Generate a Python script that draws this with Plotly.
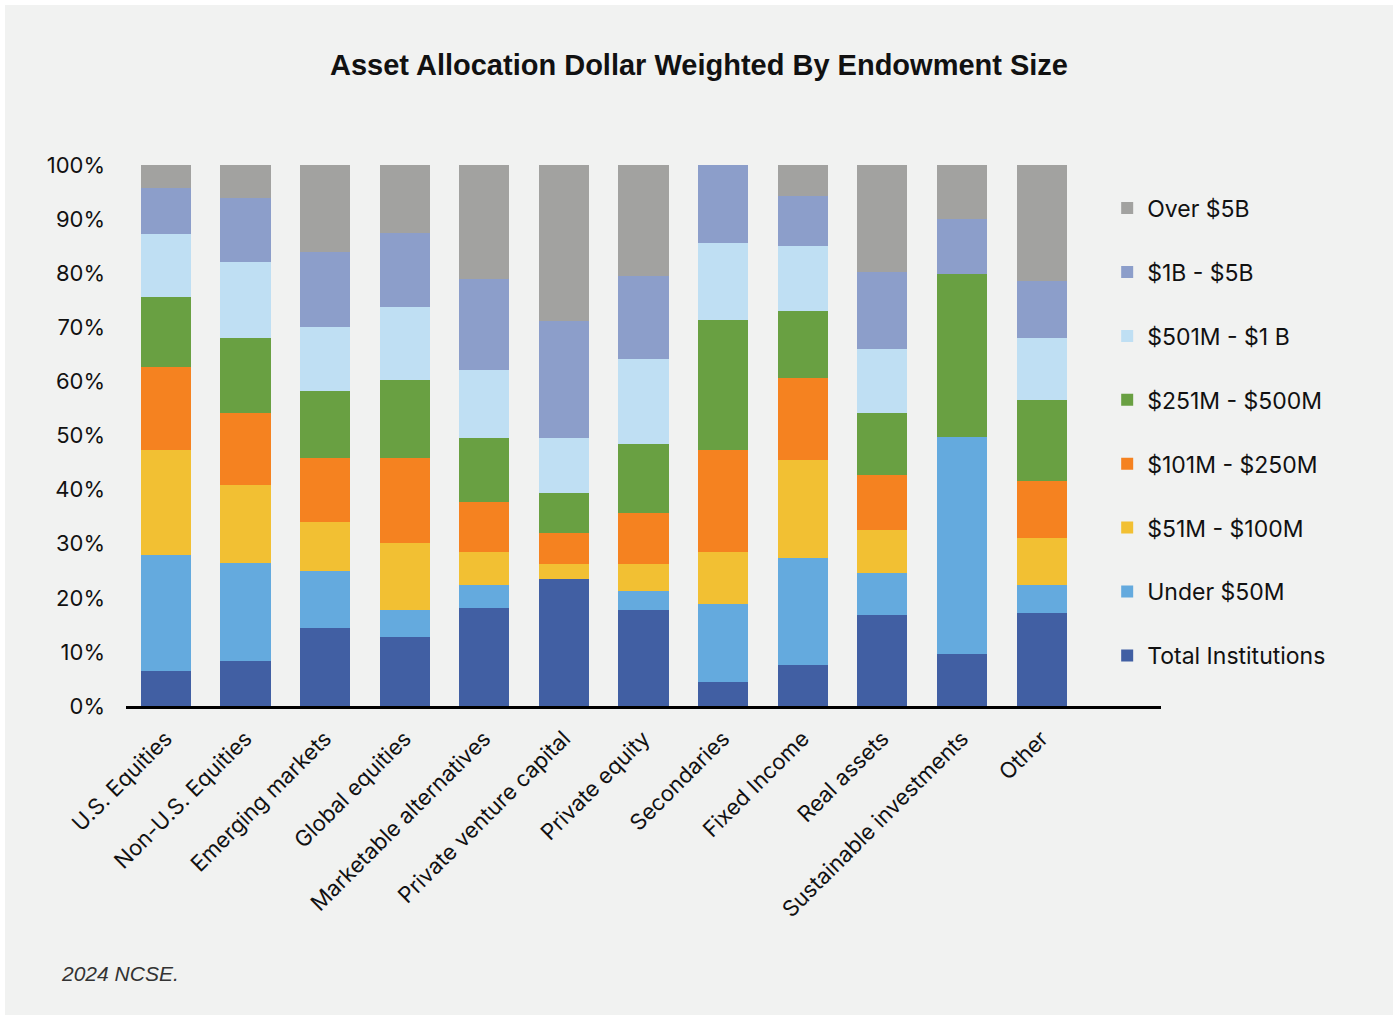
import plotly.graph_objects as go

# Asset classes along the x axis
categories = [
    "U.S. Equities", "Non-U.S. Equities", "Emerging markets", "Global equities",
    "Marketable alternatives", "Private venture capital", "Private equity",
    "Secondaries", "Fixed Income", "Real assets", "Sustainable investments", "Other",
]

# Share of each asset class (percent), by endowment size bucket
total_institutions = [6.4, 8.4, 14.5, 12.7, 18.2, 23.5, 17.7, 4.4, 7.5, 16.8, 9.7, 17.1]
under_50m = [21.5, 18.0, 10.4, 5.1, 4.1, 0.0, 3.5, 14.4, 19.8, 7.7, 40.1, 5.2]
m51_100m = [19.5, 14.4, 9.2, 12.3, 6.1, 2.8, 5.1, 9.6, 18.2, 8.1, 0.0, 8.7]
m101_250m = [15.2, 13.4, 11.8, 15.8, 9.4, 5.7, 9.3, 19.0, 15.2, 10.1, 0.0, 10.5]
m251_500m = [13.0, 13.9, 12.3, 14.4, 11.7, 7.3, 12.9, 23.9, 12.3, 11.5, 30.1, 15.0]
m501m_1b = [11.7, 13.9, 11.8, 13.4, 12.7, 10.2, 15.6, 14.3, 12.1, 11.8, 0.0, 11.6]
b1_5b = [8.5, 11.9, 14.0, 13.8, 16.7, 21.7, 15.3, 14.4, 9.1, 14.2, 10.1, 10.4]
over_5b = [4.2, 6.1, 16.0, 12.5, 21.1, 28.8, 20.6, 0.0, 5.8, 19.8, 10.0, 21.5]

series_names = [
    "Total Institutions", "Under $50M", "$51M - $100M", "$101M - $250M",
    "$251M - $500M", "$501M - $1 B", "$1B - $5B", "Over $5B",
]
series_values = [
    total_institutions, under_50m, m51_100m, m101_250m,
    m251_500m, m501m_1b, b1_5b, over_5b,
]
series_colors = [
    "#415FA3", "#64AADE", "#F2C033", "#F58220",
    "#69A042", "#BFDFF3", "#8C9ECA", "#A2A2A0",
]

y_tick_values = [0, 10, 20, 30, 40, 50, 60, 70, 80, 90, 100]
y_tick_labels = [f"{v}%" for v in y_tick_values]

label_font = "Inter, Liberation Sans, Arial, sans-serif"

fig = go.Figure()
for i, (name, vals, color) in enumerate(zip(series_names, series_values, series_colors)):
    fig.add_trace(go.Bar(
        x=categories,
        y=vals,
        name=name,
        legendgroup=name,
        legendrank=1000 - 10 * i,  # largest bucket listed first
        marker=dict(color=color, line=dict(width=0)),
        hovertemplate="%{x}<br>" + name + ": %{y:.1f}%<extra></extra>",
    ))

# Light panel behind the whole chart
fig.add_shape(
    type="rect", xref="paper", yref="paper",
    x0=-0.1169, x1=1.2242, y0=-0.571, y1=1.2957,
    fillcolor="#F1F2F1", line=dict(width=0), layer="below",
)

fig.update_layout(
    width=1398,
    height=1020,
    autosize=False,
    barmode="stack",
    bargap=0.37,
    paper_bgcolor="white",
    plot_bgcolor="rgba(0,0,0,0)",
    margin=dict(l=126, r=237, t=165, b=314),
    font=dict(family=label_font, size=22, color="#111111"),
    title=dict(
        text="<b>Asset Allocation Dollar Weighted By Endowment Size</b>",
        font=dict(family="Liberation Sans, Arial, sans-serif", size=29, color="#111111"),
        x=0.5, xref="container", xanchor="center",
        y=1 - 65 / 1020, yref="container", yanchor="middle",
    ),
    xaxis=dict(
        range=[-0.5, 12.5],
        tickangle=-45,
        showgrid=False,
        showline=True,
        linecolor="#000000",
        linewidth=3,
        ticks="",
        ticklabelstandoff=8,
        tickfont=dict(size=22),
        zeroline=False,
    ),
    yaxis=dict(
        range=[0, 100],
        tickvals=y_tick_values,
        ticktext=y_tick_labels,
        showgrid=False,
        showline=False,
        zeroline=False,
        ticks="",
        ticklabelstandoff=20,
        tickfont=dict(size=22),
    ),
    legend=dict(
        x=0.948, xanchor="left",
        y=0.96, yanchor="top",
        traceorder="grouped",
        tracegroupgap=31,
        bgcolor="rgba(0,0,0,0)",
        font=dict(size=23),
    ),
    annotations=[
        dict(
            text="<i>2024 NCSE.</i>",
            xref="paper", yref="paper",
            x=(59 - 126) / 1035, y=(706 - 973) / 541,
            xanchor="left", yanchor="middle",
            showarrow=False,
            font=dict(family="Liberation Sans, Arial, sans-serif", size=21, color="#333333"),
        )
    ],
)

fig.write_html("out.html")
